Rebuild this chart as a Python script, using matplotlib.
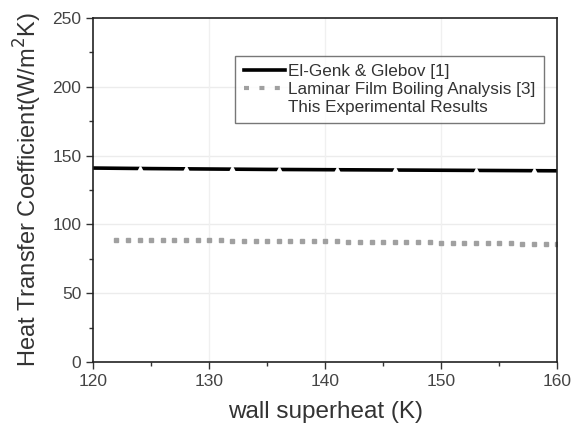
import numpy as np
import matplotlib.pyplot as plt
from matplotlib.ticker import MultipleLocator

plt.switch_backend("Agg")
plt.rcParams["font.family"] = ["Liberation Sans", "DejaVu Sans"]

# El-Genk & Glebov correlation
elgenk_x = [120, 125, 130, 135, 140, 145, 150, 155, 160]
elgenk_y = [141.0, 140.6, 140.3, 140.0, 139.8, 139.6, 139.4, 139.2, 139.0]

# laminar film boiling analysis
laminar_x = list(range(122, 161))
laminar_y = [89.0, 88.9, 88.9, 88.8, 88.8, 88.7, 88.6, 88.6, 88.5, 88.4,
             88.3, 88.3, 88.2, 88.1, 88.0, 88.0, 87.9, 87.8, 87.7, 87.7,
             87.6, 87.5, 87.4, 87.3, 87.2, 87.1, 87.0, 86.9, 86.8, 86.7,
             86.6, 86.5, 86.4, 86.3, 86.2, 86.1, 86.0, 85.8, 85.6]

# experimental results (very faint in the scan)
exp_x = [124, 128, 132, 136, 141, 146, 153, 158]
exp_y = [140.5, 140.2, 140.0, 139.8, 139.6, 139.4, 139.2, 139.0]

fig = plt.figure(figsize=(5.72, 4.30), dpi=100)
ax = fig.add_axes([0.163, 0.158, 0.811, 0.80])

for v in [50, 100, 150, 200]:
    ax.axhline(v, color="#ececec", lw=1.0, zorder=0)
for v in [130, 140, 150]:
    ax.axvline(v, color="#f0f0f0", lw=1.0, zorder=0)

ax.plot(elgenk_x, elgenk_y, color="black", lw=2.6, label="El-Genk & Glebov [1]")
ax.plot(laminar_x, laminar_y, ls="none", marker="s", ms=3.2, color="#a0a0a0",
        label="Laminar Film Boiling Analysis [3]")
ax.plot(exp_x, exp_y, ls="none", marker="^", ms=4, color="white", mec="white",
        label="This Experimental Results")

ax.set_xlim(120, 160)
ax.set_ylim(0, 250)
ax.xaxis.set_major_locator(MultipleLocator(10))
ax.xaxis.set_minor_locator(MultipleLocator(5))
ax.yaxis.set_major_locator(MultipleLocator(50))
ax.yaxis.set_minor_locator(MultipleLocator(25))
ax.tick_params(which="both", direction="out", top=False, right=False,
               labelsize=12.5, colors="#333333", labelcolor="#444444")
ax.tick_params(which="major", length=5, width=1)
ax.tick_params(which="minor", length=3, width=1)
for s in ax.spines.values():
    s.set_linewidth(1.2)
    s.set_color("#222222")

ax.set_xlabel("wall superheat (K)", fontsize=17.5, color="#333333", labelpad=9)
ax.set_ylabel("Heat Transfer Coefficient(W/m$^2$K)", fontsize=17,
              color="#333333", labelpad=6)

leg = ax.legend(loc="upper right", bbox_to_anchor=(0.99, 0.915), fontsize=12.3,
                frameon=True, fancybox=False, handlelength=2.4,
                handletextpad=0.2, borderpad=0.5, labelspacing=0.15)
leg.get_frame().set_edgecolor("#555555")
leg.get_frame().set_linewidth(1.0)
# legend handle for the analysis series is drawn as short gray dashes
lh = leg.legend_handles[1]
lh.set_linestyle((0, (1.2, 2.5)))
lh.set_linewidth(3.0)
lh.set_marker("None")
for t in leg.get_texts():
    t.set_color("#333333")

fig.savefig("out.png", dpi=100, facecolor="white")
